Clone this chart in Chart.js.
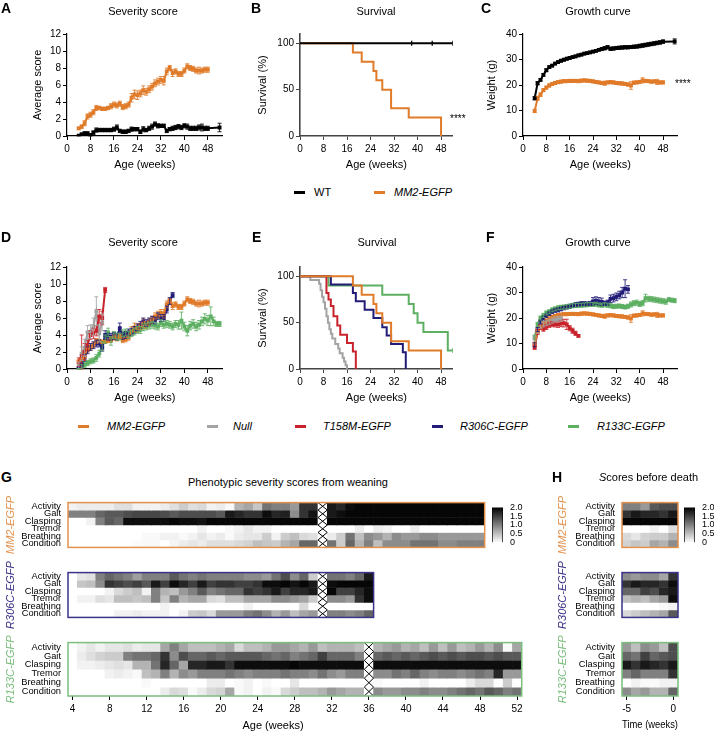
<!DOCTYPE html>
<html lang="en">
<head>
<meta charset="UTF-8">
<title>MM2-EGFP phenotypes</title>
<script src="https://cdn.jsdelivr.net/npm/chart.js"></script>
<style>
  body { margin: 0; background: #fff; font-family: "Liberation Sans", Arial, sans-serif; }
  #fig { position: relative; width: 714px; height: 732px; overflow: hidden; }
  canvas { position: absolute; }
  .t { position: absolute; white-space: nowrap; color: #000; font-size: 11px; line-height: 13px; }
  .c { transform: translateX(-50%); }
  .letter { font-weight: bold; font-size: 14px; line-height: 16px; }
  .it { font-style: italic; }
  .dash { position: absolute; width: 11px; height: 2.5px; }
</style>
</head>
<body>
<div id="fig">
  <canvas id="cA" width="232" height="175" style="left:0;top:0"></canvas>
  <canvas id="cB" width="232" height="175" style="left:232px;top:0"></canvas>
  <canvas id="cC" width="250" height="175" style="left:464px;top:0"></canvas>
  <canvas id="cD" width="232" height="175" style="left:0;top:233px"></canvas>
  <canvas id="cE" width="232" height="175" style="left:232px;top:233px"></canvas>
  <canvas id="cF" width="250" height="175" style="left:464px;top:233px"></canvas>

  <canvas id="gMM2" width="495" height="70" style="left:0;top:490px"></canvas>
  <canvas id="gR306C" width="495" height="70" style="left:0;top:560px"></canvas>
  <canvas id="gR133C" width="540" height="102" style="left:0;top:630px"></canvas>
  <canvas id="gBar" width="45" height="60" style="left:485px;top:495px"></canvas>

  <canvas id="hMM2" width="140" height="70" style="left:548px;top:490px"></canvas>
  <canvas id="hR306C" width="140" height="70" style="left:548px;top:560px"></canvas>
  <canvas id="hR133C" width="140" height="102" style="left:548px;top:630px"></canvas>
  <canvas id="hBar" width="37" height="60" style="left:677px;top:495px"></canvas>

  <div class="t letter" style="left:1px;top:0">A</div>
  <div class="t letter" style="left:251px;top:0">B</div>
  <div class="t letter" style="left:481px;top:0">C</div>
  <div class="t letter" style="left:1px;top:229px">D</div>
  <div class="t letter" style="left:252px;top:229px">E</div>
  <div class="t letter" style="left:486px;top:229px">F</div>
  <div class="t letter" style="left:1px;top:469px">G</div>
  <div class="t letter" style="left:552px;top:469px">H</div>

  <div class="t c" style="left:143px;top:5px">Severity score</div>
  <div class="t c" style="left:376px;top:5px">Survival</div>
  <div class="t c" style="left:598px;top:5px">Growth curve</div>
  <div class="t c" style="left:143px;top:236px">Severity score</div>
  <div class="t c" style="left:377px;top:236px">Survival</div>
  <div class="t c" style="left:598px;top:236px">Growth curve</div>
  <div class="t" style="left:450px;top:112px;font-size:10px">****</div>
  <div class="t" style="left:675px;top:77px;font-size:10px">****</div>

  <div class="dash" style="left:294px;top:191px;background:#000"></div>
  <div class="t" style="left:314px;top:186px">WT</div>
  <div class="dash" style="left:374px;top:191px;background:#E07B2A"></div>
  <div class="t it" style="left:394px;top:186px">MM2-EGFP</div>

  <div class="dash" style="left:78px;top:425px;background:#E07B2A"></div>
  <div class="t it" style="left:107px;top:420px">MM2-EGFP</div>
  <div class="dash" style="left:207px;top:425px;background:#A3A3A3"></div>
  <div class="t it" style="left:233px;top:420px">Null</div>
  <div class="dash" style="left:295px;top:425px;background:#C8232C"></div>
  <div class="t it" style="left:323px;top:420px">T158M-EGFP</div>
  <div class="dash" style="left:432px;top:425px;background:#221C78"></div>
  <div class="t it" style="left:460px;top:420px">R306C-EGFP</div>
  <div class="dash" style="left:568px;top:425px;background:#5DAF62"></div>
  <div class="t it" style="left:597px;top:420px">R133C-EGFP</div>

  <div class="t" style="left:188px;top:476px">Phenotypic severity scores from weaning</div>
  <div class="t" style="left:599px;top:471px"><i>S</i>cores before death</div>
  <div class="t c" style="left:273px;top:719px">Age (weeks)</div>
</div>

<script>
// colours
const cOrange = '#E07B2A';
const cGrey = '#A3A3A3';
const cRed = '#C8232C';
const cNavy = '#221C78';
const cGreen = '#5DAF62';

function range(a, b) {
    const out = [];
    for (let i = a; i <= b; i++) out.push(i);
    return out;
}

// ---------- x categories ----------
const weeks4to48 = range(4, 48);
const weeks4to36 = range(4, 36);
const weeks4to52 = range(4, 52);
const weeks4to12 = range(4, 12);
const weeks4to13 = range(4, 13);
const weeks4to19 = range(4, 19);
const wtWeeks = weeks4to48.concat([52]);
const ageTicks = [0, 8, 16, 24, 32, 40, 48];
const heatAgeTicks = [4, 8, 12, 16, 20, 24, 28, 32, 36, 40, 44, 48, 52];
const timeWeeks = [-5, -4, -3, -2, -1, 0];
const timeTicks = [-5, 0];
const rowNames = ['Activity', 'Gait', 'Clasping', 'Tremor', 'Breathing', 'Condition'];
const scoreTicks = [0, 0.5, 1, 1.5, 2];

// ---------- A / D severity score ----------
const sevWT = [0.05, 0.2, 0.3, 0.3, 0.1, 0.4, 0.7, 0.7, 0.7, 0.7, 0.7, 0.7, 0.8, 1.0, 0.6, 0.5, 0.5, 0.6, 0.8, 0.8,
    0.8, 0.5, 0.8, 0.7, 0.9, 1.1, 1.4, 1.2, 1.2, 1.2, 0.6, 0.8, 0.9, 1.0, 1.1, 1.0, 1.2, 1.1, 0.9, 0.9,
    0.9, 1.0, 1.0, 0.9, 0.9, 1.0];
const sevWTErr = [0.05, 0.15, 0.2, 0.2, 0.15, 0.2, 0.25, 0.2, 0.2, 0.2, 0.2, 0.2, 0.25, 0.3, 0.2, 0.2, 0.2, 0.2, 0.25, 0.2,
    0.2, 0.2, 0.3, 0.2, 0.25, 0.3, 0.25, 0.25, 0.2, 0.2, 0.2, 0.2, 0.25, 0.25, 0.25, 0.25, 0.25, 0.3, 0.25, 0.25,
    0.25, 0.3, 0.4, 0.25, 0.25, 0.5];
const sevMM2 = [0.9, 1.1, 1.5, 2.3, 2.5, 2.8, 3.3, 3.3, 3.2, 3.2, 3.3, 3.5, 3.7, 3.6, 3.8, 3.4, 3.5, 3.7, 4.5, 4.9,
    4.8, 5.0, 5.4, 5.2, 5.5, 5.8, 6.2, 6.4, 6.6, 6.5, 7.6, 8.0, 7.4, 7.6, 7.3, 7.3, 7.7, 8.2, 8.0, 7.9,
    7.7, 7.7, 7.7, 7.8, 7.8];
const sevMM2Err = [0.15, 0.2, 0.3, 0.3, 0.3, 0.3, 0.3, 0.2, 0.2, 0.2, 0.2, 0.3, 0.3, 0.3, 0.3, 0.3, 0.3, 0.3, 0.5, 0.5,
    0.5, 0.4, 0.5, 0.4, 0.4, 0.4, 0.4, 0.4, 0.4, 0.5, 0.4, 0.3, 0.4, 0.3, 0.3, 0.3, 0.3, 0.3, 0.3, 0.3,
    0.3, 0.4, 0.3, 0.3, 0.3];
const sevNull = [0.4, 1.8, 2.5, 4.3, 4.4, 5.0, 6.8, 4.2, 5.5];
const sevNullErr = [0.4, 0.8, 1.0, 0.8, 0.8, 1.0, 1.7, 1.0, 1.0];
const sevT158M = [0.8, 1.5, 2.0, 2.8, 4.0, 4.2, 4.5, 6.2, 6.0, 9.3];
const sevT158MErr = [0.5, 2.5, 1.0, 0.6, 0.5, 0.6, 0.6, 0.8, 0.8, 0.3];
const sevR306C = [0.1, 0.5, 1.3, 2.2, 2.6, 2.8, 3.0, 3.0, 2.5, 4.0, 3.8, 3.8, 3.9, 3.8, 4.8, 3.9, 4.0, 4.3, 4.4, 4.6,
    4.9, 5.2, 5.6, 5.4, 5.6, 5.8, 5.7, 6.2, 6.0, 6.0, 7.0, 8.0, 8.7];
const sevR306CErr = [0.1, 0.3, 0.4, 0.4, 0.4, 0.4, 0.4, 0.4, 0.4, 0.5, 0.4, 0.4, 0.4, 0.4, 0.6, 0.4, 0.4, 0.4, 0.4, 0.4,
    0.4, 0.4, 0.4, 0.4, 0.4, 0.4, 0.4, 0.4, 0.4, 0.4, 0.4, 0.4, 0.3];
const sevR133C = [0, 0.3, 0.5, 0.7, 0.9, 1.0, 1.3, 1.8, 2.7, 3.5, 4.3, 3.3, 4.0, 3.8, 3.8, 4.2, 4.3, 4.0, 4.2, 4.4,
    4.6, 4.6, 4.9, 5.0, 5.1, 5.2, 5.1, 5.0, 5.4, 5.2, 5.3, 5.2, 5.0, 5.3, 5.2, 5.7, 5.0, 4.5, 5.1, 5.3,
    5.0, 5.2, 5.6, 5.9, 5.7, 6.2, 5.6, 5.3, 5.3];
const sevR133CErr = [0.05, 0.2, 0.3, 0.3, 0.3, 0.3, 0.4, 0.4, 0.5, 0.5, 0.5, 0.5, 0.4, 0.4, 0.4, 0.4, 0.4, 0.4, 0.4, 0.4,
    0.4, 0.4, 0.4, 0.4, 0.4, 0.4, 0.4, 0.4, 0.4, 0.4, 0.4, 0.4, 0.4, 0.4, 0.5, 1.0, 0.5, 0.6, 0.5, 0.5,
    0.5, 0.5, 0.5, 0.6, 0.6, 1.1, 0.5, 0.3, 0.3];

// ---------- B / E survival (%) ----------
const survWTT = [0, 52];
const survWTP = [100, 100];
const wtCensorT = [38, 45, 52];
const survMM2T = [0, 18, 21, 25, 26, 28, 31, 37, 48];
const survMM2P = [100, 90, 80, 70, 60, 50, 30, 20, 0];
const survNullT = [0, 3.5, 6.5, 7, 7.5, 8, 8.5, 9, 9.5, 10, 10.5, 11, 12, 13, 13.5, 14.5, 15, 15.5, 16];
const survNullP = [100, 96, 92, 85, 78, 72, 65, 57, 50, 43, 38, 33, 27, 22, 17, 12, 8, 4, 0];
const survT158MT = [0, 9, 9.7, 10.5, 11.4, 12.7, 13.7, 16, 18, 19];
const survT158MP = [100, 82, 75, 68, 57, 47, 37, 28, 19, 0];
const survR306CT = [0, 10.5, 18, 19, 22, 25, 28, 29.5, 31, 35, 36];
const survR306CP = [100, 91, 82, 73, 64, 55, 45, 36, 27, 18, 0];
const survR133CT = [0, 9.7, 28, 37, 38.7, 40, 42, 50.3, 52];
const survR133CP = [100, 90, 80, 70, 60, 50, 40, 20, 20];
const r133cCensorT = [52];
const r133cCensorP = [20];

// ---------- C / F weight (g) ----------
const wtWT = [14.8, 20.7, 22.0, 24.0, 25.8, 27.0, 27.6, 28.4, 29.0, 29.5, 29.9, 30.3, 30.6, 30.9, 31.2, 31.6, 31.9, 32.3, 32.5, 32.8,
    33.1, 33.4, 33.8, 34.1, 34.4, 34.8, 34.2, 34.3, 34.5, 34.6, 34.7, 34.8, 34.8, 34.9, 35.0, 35.1, 35.3, 35.5, 35.7, 35.9,
    36.1, 36.3, 36.5, 36.7, 37.0, 37.1];
const wtWTErr = [0.6, 0.6, 0.5, 0.5, 0.5, 0.5, 0.5, 0.5, 0.5, 0.5, 0.5, 0.5, 0.5, 0.5, 0.5, 0.5, 0.5, 0.5, 0.5, 0.5,
    0.5, 0.5, 0.5, 0.6, 0.6, 0.6, 0.6, 0.6, 0.6, 0.6, 0.6, 0.6, 0.6, 0.6, 0.6, 0.6, 0.7, 0.7, 0.7, 0.7,
    0.7, 0.7, 0.7, 0.7, 0.7, 1.0];
const wtMM2 = [9.8, 14.8, 16.2, 18.0, 19.0, 19.8, 20.4, 20.8, 21.1, 21.3, 21.5, 21.5, 21.6, 21.6, 21.6, 21.5, 21.7, 21.8, 21.7, 21.6,
    21.4, 21.2, 21.0, 20.8, 20.7, 21.0, 21.1, 21.0, 20.8, 20.7, 20.6, 20.4, 20.2, 19.8, 20.9, 21.0, 21.2, 21.8, 21.6, 21.5,
    21.3, 21.4, 21.2, 21.0, 21.0];
const wtMM2Err = [0.6, 0.8, 0.7, 0.6, 0.6, 0.6, 0.6, 0.6, 0.6, 0.6, 0.6, 0.6, 0.6, 0.6, 0.6, 0.6, 0.6, 0.6, 0.6, 0.6,
    0.6, 0.6, 0.6, 0.6, 0.8, 0.6, 0.6, 0.6, 0.6, 0.6, 0.6, 0.6, 0.6, 1.5, 0.6, 0.6, 0.6, 1.0, 0.6, 0.6,
    0.6, 0.6, 1.0, 0.6, 0.6];
const wtNull = [12.0, 15.0, 17.0, 17.5, 18.0, 18.5, 19.0, 19.5, 19.5, 19.8];
const wtNullErr = [1.0, 1.0, 1.0, 1.0, 1.0, 1.0, 1.0, 1.0, 1.0, 1.0];
const wtT158M = [8.5, 14.5, 16.5, 15.8, 16.5, 17.3, 17.6, 17.5, 17.5, 17.8, 18.0, 17.5, 16.0, 15.0, 14.0, 13.0];
const wtT158MErr = [0.8, 1.0, 1.0, 1.0, 1.0, 1.0, 1.0, 1.0, 1.2, 1.2, 1.5, 2.0, 1.0, 1.0, 0.8, 0.5];
const wtR306C = [9.5, 15.5, 18.5, 20.0, 21.0, 21.8, 22.5, 23.0, 23.2, 23.6, 24.0, 24.3, 24.6, 24.9, 25.2, 25.4, 25.6, 25.6, 25.5, 25.7,
    26.5, 26.8, 26.5, 26.3, 25.8, 26.0, 27.5, 27.8, 28.3, 29.0, 30.0, 31.5, 31.2];
const wtR306CErr = [0.8, 0.8, 0.8, 0.8, 0.8, 0.8, 0.8, 0.8, 0.8, 0.8, 0.8, 0.8, 0.8, 0.8, 0.8, 0.8, 0.8, 0.8, 0.8, 0.8,
    1.5, 1.5, 1.5, 1.5, 0.8, 1.0, 1.5, 1.5, 1.5, 1.5, 2.0, 3.5, 1.5];
const wtR133C = [12.5, 17.5, 20.0, 21.0, 22.0, 22.5, 23.2, 23.6, 24.0, 24.2, 24.3, 24.4, 24.6, 24.8, 24.9, 25.0, 25.0, 25.1, 25.2, 25.3,
    25.3, 25.4, 25.1, 25.0, 25.2, 25.0, 24.8, 24.5, 24.6, 24.7, 24.5, 24.3, 24.6, 25.3, 25.8, 26.0, 25.5, 25.8, 27.8, 27.5,
    27.4, 27.2, 27.0, 26.8, 26.6, 26.4, 27.2, 27.0, 26.8];
const wtR133CErr = [0.8, 0.8, 0.8, 0.8, 0.8, 0.8, 0.8, 0.8, 0.8, 0.8, 0.8, 0.8, 0.8, 0.8, 0.8, 0.8, 0.8, 0.8, 0.8, 0.8,
    0.8, 0.8, 0.8, 0.8, 0.8, 0.8, 0.8, 0.8, 0.8, 0.8, 0.8, 0.8, 0.8, 1.0, 1.0, 1.0, 1.0, 1.0, 1.5, 1.0,
    1.0, 1.0, 1.0, 1.0, 1.0, 1.0, 0.8, 0.8, 0.8];

// ---------- G heat maps: rows Activity..Condition, null = missing week ----------
const gMM2 = [
    [0.1, 0.15, 0.15, 0.15, 0.15, 0.25, 0.25, 0.1, 0.1, 0.1, 0.15, 0.25, 0.4, 0.25, 0.3, 0.1, 0.15, 0.05, 0.6, 0.7, 0.45, 1.1, 1.0, 1.0, 0.8, 1.6, 1.6, null, 1.8, 1.7, 1.9, 1.95, 1.95, 1.95, 1.95, 1.95, 1.95, 1.95, 1.95, 1.95, 1.95, 1.95, 1.95, 1.95, 1.95],
    [1.0, 1.0, 1.0, 1.2, 1.3, 1.3, 1.4, 1.45, 1.45, 1.45, 1.4, 1.3, 1.4, 1.4, 1.4, 1.4, 1.3, 1.8, 1.7, 1.6, 1.6, 1.9, 1.7, 1.75, 0.9, 1.6, 1.85, null, 1.8, 1.9, 1.95, 1.95, 1.95, 1.95, 1.95, 1.95, 1.95, 1.95, 1.95, 1.95, 1.95, 1.95, 1.95, 1.95, 1.95],
    [0, 0, 0.1, 1.0, 1.3, 1.2, 1.9, 1.9, 1.9, 1.9, 1.9, 1.95, 1.9, 1.9, 1.85, 1.95, 1.95, 1.95, 1.95, 1.95, 1.95, 1.95, 1.95, 1.95, 1.95, 1.95, 1.95, null, 1.95, 1.95, 1.95, 1.95, 1.95, 1.95, 1.95, 1.95, 1.95, 1.95, 1.95, 1.95, 1.95, 1.95, 1.95, 1.95, 1.95],
    [0, 0, 0, 0, 0, 0, 0, 0, 0, 0, 0, 0, 0, 0, 0.1, 0, 0, 0.05, 0.1, 0.2, 0.1, 0.1, 0, 0, 0, 0, 0, null, 0, 0, 0, 0.15, 0, 0.15, 0.1, 0, 0, 0.15, 0, 0, 0, 0, 0, 0, 0],
    [0, 0, 0, 0, 0, 0, 0, 0, 0.05, 0.05, 0.1, 0.1, 0.05, 0.1, 0.2, 0.1, 0.15, 0.05, 0.15, 0.2, 0.2, 0.4, 0.1, 0.4, 0.5, 0.3, 0.25, null, 0.15, 0.4, 1.1, 0.5, 0.9, 0.8, 0.6, 0.9, 0.8, 0.8, 0.9, 0.9, 0.8, 0.8, 0.8, 0.8, 0.8],
    [0, 0, 0, 0, 0, 0, 0, 0.03, 0.05, 0.05, 0, 0.08, 0.15, 0.2, 0.15, 0.25, 0.25, 0.25, 0.3, 0.35, 0.5, 0.45, 0.4, 0.6, 0.7, 1.2, 1.2, null, 1.1, 0.4, 1.2, 0.6, 1.0, 0.5, 0.9, 0.9, 0.9, 1.1, 1.1, 1.1, 0.9, 0.9, 1.0, 1.0, 1.0]
];
const gR306C = [
    [0, 0.2, 0.25, 1.0, 1.2, 1.1, 1.0, 0.75, 1.0, 1.0, 1.0, 1.3, 1.1, 1.0, 1.1, 1.0, 1.0, 1.0, 1.0, 0.9, 0.9, 0.8, 1.1, 1.4, 0.9, 1.2, 0.4, null, 1.1, 1.1, 1.0, 1.2, 1.8],
    [0, 0.45, 0.5, 0.9, 1.6, 1.5, 1.4, 1.5, 1.3, 1.8, 1.5, 1.9, 1.7, 1.5, 1.8, 1.5, 1.6, 1.6, 1.5, 1.5, 1.6, 1.9, 1.9, 1.95, 1.85, 1.95, 1.8, null, 1.9, 1.95, 1.95, 1.95, 1.95],
    [0, 0, 0, 0, 0.1, 0.3, 0.4, 0.5, 0.1, 1.0, 0.6, 0.5, 0.8, 1.0, 1.3, 1.0, 1.1, 1.2, 1.2, 1.6, 1.5, 1.6, 1.8, 1.5, 1.7, 1.7, 1.8, null, 1.95, 1.5, 1.5, 1.7, 1.9],
    [0, 0.1, 0.1, 0.25, 0.2, 0.5, 0.5, 0.45, 0.5, 1.0, 0.45, 1.0, 0.6, 0.7, 0.7, 0.3, 0.25, 0.5, 0.5, 0.7, 0.7, 0.7, 0.9, 0.9, 0.8, 0.7, 0.4, null, 0.9, 0.9, 0.8, 1.6, 1.9],
    [0, 0, 0, 0, 0, 0, 0, 0, 0, 0, 0.1, 0, 0, 0, 0, 0, 0, 0, 0, 0.1, 0, 0, 0, 0, 0, 0.3, 0, null, 0, 0, 0, 0, 0],
    [0, 0, 0, 0, 0, 0.1, 0.1, 0.15, 0.1, 0.1, 0.1, 0, 0.1, 0.4, 0.45, 0.3, 0.8, 0.8, 0.8, 1.0, 1.1, 0.9, 0.6, 0.8, 0.5, 0.7, 0.8, null, 1.0, 1.0, 0.9, 1.0, 1.2]
];
const gR133C = [
    [0, 0.1, 0.2, 0.1, 0.2, 0.2, 0.25, 0.15, 0.2, 0.2, 0.7, 1.0, 0.7, 0.5, 0.5, 0.5, 0.6, 0.7, 0.3, 0.5, 0.5, 0.6, 0.8, 0.8, 0.7, 0.6, 0.8, 0.5, 0.6, 0.6, 0.6, 0.5, null, 0.6, 0.7, 0.8, 0.6, 0.7, 0.5, 0.8, 0.5, 0.8, 0.5, 0.6, 0.8, 0.6, 0.9, 0.05, 0.7],
    [0, 0.15, 0.25, 0.35, 0.4, 0.4, 1.0, 1.1, 1.1, 1.2, 1.6, 0.9, 1.4, 1.2, 1.2, 1.3, 1.2, 1.3, 1.3, 1.3, 1.3, 1.2, 1.1, 1.2, 1.0, 1.1, 1.2, 1.5, 1.2, 1.2, 1.2, 1.0, null, 1.2, 1.3, 1.2, 1.3, 1.2, 1.3, 1.4, 1.3, 1.4, 1.3, 1.4, 1.4, 1.3, 1.4, 1.3, 1.3],
    [0, 0.1, 0.1, 0.15, 0.2, 0.25, 0.2, 0.6, 0.6, 1.1, 1.7, 1.2, 0.7, 1.7, 1.7, 1.8, 1.8, 1.6, 1.9, 1.9, 1.9, 1.9, 1.9, 1.9, 1.95, 1.9, 1.9, 1.9, 1.9, 1.9, 1.9, 1.9, null, 1.9, 1.9, 1.9, 1.9, 1.9, 1.9, 1.9, 1.9, 1.9, 1.9, 1.9, 1.9, 1.9, 1.9, 1.9, 1.9],
    [0, 0, 0, 0, 0.1, 0.15, 0.1, 0.05, 0.5, 0.6, 1.0, 0.6, 0.9, 0.8, 1.0, 1.0, 1.0, 1.1, 1.0, 0.9, 1.0, 1.0, 1.0, 1.1, 1.0, 1.0, 0.9, 1.1, 0.9, 0.8, 1.0, 1.0, null, 0.9, 0.9, 1.1, 1.0, 1.2, 1.0, 0.9, 1.0, 1.0, 0.9, 1.0, 1.1, 1.0, 1.7, 0.8, 0.8],
    [0, 0, 0, 0, 0, 0, 0, 0, 0.05, 0, 0, 0, 0, 0, 0, 0.15, 0.15, 0, 0.05, 0.1, 0, 0.05, 0, 0, 0.2, 0, 0, 0, 0, 0, 0, 0, null, 0.05, 0, 0, 0, 0, 0.1, 0, 0, 0, 0, 0.15, 0.3, 0.3, 0, 0.4, 0],
    [0, 0, 0, 0, 0, 0, 0, 0, 0, 0, 0.15, 0.3, 0.25, 0.05, 0.15, 0.3, 0.35, 0.7, 0.05, 0.1, 0, 0.1, 0.05, 0.3, 0.4, 0.5, 0.5, 0.6, 0.8, 0.7, 0.6, 0.6, null, 0.9, 0.8, 0.8, 0.9, 0.9, 1.0, 0.9, 0.9, 1.0, 1.1, 1.2, 1.1, 1.3, 1.2, 1.0, 1.1]
];

// ---------- H heat maps (last 6 weeks before death) ----------
const hMM2 = [
    [1.0, 1.0, 0.8, 1.3, 1.4, 1.4],
    [1.6, 1.8, 1.7, 1.7, 1.6, 1.8],
    [1.95, 1.95, 1.95, 1.95, 1.95, 1.95],
    [0, 0, 0, 0.1, 0, 0.25],
    [0.3, 0.2, 0.35, 0.4, 0.4, 0.6],
    [0.35, 0.45, 0.4, 0.7, 0.6, 0.9]
];
const hR306C = [
    [0.9, 0.8, 0.9, 0.9, 0.7, 1.6],
    [1.6, 1.8, 1.7, 1.7, 1.6, 1.9],
    [1.2, 1.2, 1.5, 1.4, 1.7, 1.8],
    [0.5, 0.6, 0.5, 0.7, 0.8, 1.9],
    [0, 0, 0, 0, 0.05, 0.1],
    [0.3, 0.4, 0.5, 0.6, 0.7, 1.3]
];
const hR133C = [
    [0.8, 0.5, 0.9, 0.8, 0.5, 1.4],
    [1.2, 1.1, 1.5, 1.2, 1.3, 1.4],
    [1.8, 1.6, 1.8, 1.7, 1.6, 1.8],
    [1.0, 1.2, 1.0, 1.0, 1.0, 1.6],
    [0, 0.1, 0.05, 0.05, 0.1, 0.1],
    [0.9, 0.7, 0.8, 0.6, 0.6, 1.2]
];

Chart.defaults.font.family = '"Liberation Sans", Arial, sans-serif';
Chart.defaults.color = '#000';

function pts(xs, ys) {
    return xs.map((x, i) => ({ x: x, y: ys[i] }));
}

function gray(v) {
    const g = Math.round(255 * (1 - v / 2));
    return 'rgb(' + g + ',' + g + ',' + g + ')';
}

// error bars (mean +/- SEM) drawn through the chart scales
const errorBars = {
    id: 'errorBars',
    afterDatasetsDraw(chart) {
        const { ctx, scales: { x, y } } = chart;
        chart.data.datasets.forEach((ds) => {
            if (!ds.errors) return;
            ctx.save();
            ctx.strokeStyle = ds.borderColor;
            ctx.globalAlpha = 0.85;
            ctx.lineWidth = 1;
            ds.data.forEach((p, j) => {
                const e = ds.errors[j];
                if (!e) return;
                const px = x.getPixelForValue(p.x);
                const top = y.getPixelForValue(p.y + e);
                const bot = y.getPixelForValue(Math.max(0, p.y - e));
                ctx.beginPath();
                ctx.moveTo(px, top); ctx.lineTo(px, bot);
                ctx.moveTo(px - 2, top); ctx.lineTo(px + 2, top);
                ctx.moveTo(px - 2, bot); ctx.lineTo(px + 2, bot);
                ctx.stroke();
            });
            ctx.restore();
        });
    }
};

function series(xs, ys, errs, color) {
    return {
        data: pts(xs, ys), errors: errs, borderColor: color, backgroundColor: color,
        borderWidth: 2, pointRadius: 1.3, pointStyle: 'rect'
    };
}

function steps(xs, ys, color) {
    return { data: pts(xs, ys), borderColor: color, borderWidth: 2, pointRadius: 0, stepped: true };
}

function censor(xs, ys, color) {
    return {
        data: pts(xs, ys), showLine: false, borderColor: color, borderWidth: 1.3,
        pointStyle: 'line', rotation: 90, pointRadius: 2.5
    };
}

function lineChart(id, datasets, o) {
    const axisColor = o.axisColor || '#000';
    return new Chart(document.getElementById(id), {
        type: 'line',
        data: { datasets: datasets },
        options: {
            responsive: false,
            animation: false,
            layout: { padding: { top: 34, right: o.padRight, left: 0, bottom: 0 } },
            plugins: { legend: { display: false }, tooltip: { enabled: false } },
            scales: {
                x: {
                    type: 'linear', min: 0, max: o.xMax,
                    afterBuildTicks: (s) => { s.ticks = ageTicks.map(v => ({ value: v })); },
                    afterFit: (s) => { s.height = 39; },
                    grid: { display: true, drawOnChartArea: false, tickLength: 4, color: axisColor },
                    border: { display: true, color: axisColor, width: o.axisWidth || 1.2 },
                    ticks: { font: { size: 10 }, padding: 3, maxRotation: 0, autoSkip: false },
                    title: { display: true, text: 'Age (weeks)', font: { size: 11 }, padding: { top: 0, bottom: 3.4 } }
                },
                y: {
                    min: 0, max: o.yMax,
                    afterBuildTicks: (s) => { s.ticks = o.yTicks.map(v => ({ value: v })); },
                    afterFit: (s) => { s.width = o.yW; },
                    grid: { display: true, drawOnChartArea: false, tickLength: 4, color: axisColor },
                    border: { display: true, color: axisColor, width: o.axisWidth || 1.2 },
                    ticks: { font: { size: 10 }, padding: 2, autoSkip: false },
                    title: { display: true, text: o.yTitle, font: { size: 11 }, padding: { top: o.yTitlePad, bottom: 0 } }
                }
            }
        },
        plugins: [errorBars]
    });
}

const sevTicks = [0, 2, 4, 6, 8, 10, 12];
const survTicks = [0, 50, 100];
const weightTicks = [0, 10, 20, 30, 40];

// A
lineChart('cA', [
    series(wtWeeks, sevWT, sevWTErr, '#000'),
    series(weeks4to48, sevMM2, sevMM2Err, cOrange)
], { xMax: 53, padRight: 9.5, yMax: 12, yTicks: sevTicks, yW: 67, yTitle: 'Average score', yTitlePad: 31.4 });

// B
lineChart('cB', [
    censor(wtCensorT, [100, 100, 100], '#000'),
    steps(survWTT, survWTP, '#000'),
    steps(survMM2T, survMM2P, cOrange)
], { xMax: 52, padRight: 11.2, yMax: 110, yTicks: survTicks, yW: 68, yTitle: 'Survival (%)', yTitlePad: 24.4, axisColor: '#444', axisWidth: 1.6 });

// C
lineChart('cC', [
    series(wtWeeks, wtWT, wtWTErr, '#000'),
    series(weeks4to48, wtMM2, wtMM2Err, cOrange)
], { xMax: 53, padRight: 36.4, yMax: 40, yTicks: weightTicks, yW: 59, yTitle: 'Weight (g)', yTitlePad: 21.4 });

// D
lineChart('cD', [
    series(weeks4to48, sevMM2, sevMM2Err, cOrange),
    series(weeks4to36, sevR306C, sevR306CErr, cNavy),
    series(weeks4to13, sevT158M, sevT158MErr, cRed),
    series(weeks4to12, sevNull, sevNullErr, cGrey),
    series(weeks4to52, sevR133C, sevR133CErr, cGreen)
], { xMax: 53, padRight: 9.5, yMax: 12, yTicks: sevTicks, yW: 67, yTitle: 'Average score', yTitlePad: 31.4 });

// E
lineChart('cE', [
    censor(r133cCensorT, r133cCensorP, cGreen),
    steps(survMM2T, survMM2P, cOrange),
    steps(survR306CT, survR306CP, cNavy),
    steps(survT158MT, survT158MP, cRed),
    steps(survNullT, survNullP, cGrey),
    steps(survR133CT, survR133CP, cGreen)
], { xMax: 52, padRight: 11.2, yMax: 110, yTicks: survTicks, yW: 68, yTitle: 'Survival (%)', yTitlePad: 24.4, axisColor: '#444', axisWidth: 1.6 });

// F
lineChart('cF', [
    series(weeks4to48, wtMM2, wtMM2Err, cOrange),
    series(weeks4to19, wtT158M, wtT158MErr, cRed),
    series(weeks4to13, wtNull, wtNullErr, cGrey),
    series(weeks4to36, wtR306C, wtR306CErr, cNavy),
    series(weeks4to52, wtR133C, wtR133CErr, cGreen)
], { xMax: 53, padRight: 36.4, yMax: 40, yTicks: weightTicks, yW: 59, yTitle: 'Weight (g)', yTitlePad: 21.4 });

// ---------- heat maps ----------
const heatFrame = {
    id: 'heatFrame',
    afterDatasetsDraw(chart, args, opts) {
        const { ctx, chartArea: a, scales: { x, y } } = chart;
        ctx.save();
        if (opts.cross != null) {
            const l = x.getPixelForValue(opts.cross - 0.5);
            const r = x.getPixelForValue(opts.cross + 0.5);
            ctx.strokeStyle = '#000';
            ctx.lineWidth = 1;
            for (let i = 0; i < rowNames.length; i++) {
                const t = y.getPixelForValue(i);
                const b = y.getPixelForValue(i + 1);
                ctx.beginPath();
                ctx.moveTo(l, t); ctx.lineTo(r, b);
                ctx.moveTo(r, t); ctx.lineTo(l, b);
                ctx.stroke();
            }
        }
        ctx.strokeStyle = opts.color;
        ctx.lineWidth = 1.5;
        ctx.strokeRect(a.left, a.top, a.right - a.left, a.bottom - a.top);
        ctx.restore();
    }
};

function heatmap(id, cols, rows, o) {
    const showX = !!o.xTicks;
    new Chart(document.getElementById(id), {
        type: 'bar',
        data: {
            datasets: rows.map((vals, r) => ({
                label: rowNames[r],
                data: cols.map(c => ({ x: c, y: 1 })),
                backgroundColor: vals.map(v => (v == null ? '#fff' : gray(v))),
                borderWidth: 0,
                barThickness: 'flex',
                categoryPercentage: 1,
                barPercentage: 1
            }))
        },
        options: {
            responsive: false,
            animation: false,
            layout: { padding: { top: 10, right: o.padRight, left: 0, bottom: o.padBottom } },
            plugins: {
                legend: { display: false }, tooltip: { enabled: false },
                heatFrame: { color: o.color, cross: o.cross }
            },
            scales: {
                x: {
                    type: 'linear', stacked: true, display: showX, offset: false,
                    min: cols[0] - 0.5, max: cols[cols.length - 1] + 0.5,
                    afterBuildTicks: (s) => { s.ticks = (showX ? o.xTicks : cols).map(v => ({ value: v })); },
                    afterFit: (s) => { s.height = showX ? 36 : 0; },
                    grid: { display: true, offset: false, drawOnChartArea: false, tickLength: 4, color: '#000' },
                    border: { display: false },
                    ticks: { font: { size: 10 }, padding: 3, maxRotation: 0, autoSkip: false },
                    title: { display: !!o.xTitle, text: o.xTitle, font: { size: 11 }, padding: { top: 0, bottom: 0 } }
                },
                y: {
                    stacked: true, reverse: true, min: 0, max: rowNames.length,
                    afterBuildTicks: (s) => { s.ticks = rowNames.map((_, i) => ({ value: i + 0.5 })); },
                    afterFit: (s) => { s.width = o.yW; },
                    grid: { display: false, drawTicks: false },
                    border: { display: false },
                    ticks: { font: { size: 9.3 }, padding: 7, autoSkip: false, callback: (v) => rowNames[Math.floor(v)] },
                    title: {
                        display: true, text: o.label, color: o.color,
                        font: { size: 11, style: 'italic' }, padding: { top: o.labelPad, bottom: 0 }
                    }
                }
            }
        },
        plugins: [heatFrame]
    });
}

const frameOrange = '#E3924E';
const frameNavy = '#3A3389';
const frameGreen = '#7BBF7E';

heatmap('gMM2', weeks4to48, gMM2, { color: frameOrange, label: 'MM2-EGFP', cross: 31, yW: 68, labelPad: 4, padRight: 10.3, padBottom: 3 });
heatmap('gR306C', weeks4to36, gR306C, { color: frameNavy, label: 'R306C-EGFP', cross: 31, yW: 68, labelPad: 4, padRight: 121.4, padBottom: 4 });
heatmap('gR133C', weeks4to52, gR133C, { color: frameGreen, label: 'R133C-EGFP', cross: 36, yW: 68, labelPad: 4, padRight: 18.3, padBottom: 0, xTicks: heatAgeTicks });

heatmap('hMM2', timeWeeks, hMM2, { color: frameOrange, label: 'MM2-EGFP', yW: 74, labelPad: 8.4, padRight: 10, padBottom: 3 });
heatmap('hR306C', timeWeeks, hR306C, { color: frameNavy, label: 'R306C-EGFP', yW: 74, labelPad: 8.4, padRight: 10, padBottom: 4 });
heatmap('hR133C', timeWeeks, hR133C, { color: frameGreen, label: 'R133C-EGFP', yW: 74, labelPad: 8.4, padRight: 10, padBottom: 0, xTicks: timeTicks, xTitle: 'Time (weeks)' });

// colour bars
function colorBar(id, yW) {
    new Chart(document.getElementById(id), {
        type: 'bar',
        data: {
            labels: ['score'],
            datasets: [{
                data: [2],
                borderColor: '#000',
                borderWidth: 1,
                categoryPercentage: 1,
                barPercentage: 1,
                backgroundColor: (c) => {
                    const a = c.chart.chartArea;
                    if (!a) return '#888';
                    const g = c.chart.ctx.createLinearGradient(0, a.bottom, 0, a.top);
                    g.addColorStop(0, '#fff');
                    g.addColorStop(1, '#000');
                    return g;
                }
            }]
        },
        options: {
            responsive: false,
            animation: false,
            layout: { padding: { top: 7, right: 0, left: 7, bottom: 8 } },
            plugins: { legend: { display: false }, tooltip: { enabled: false } },
            scales: {
                x: { display: false },
                y: {
                    position: 'right', min: 0, max: 2,
                    afterBuildTicks: (s) => { s.ticks = scoreTicks.map(v => ({ value: v })); },
                    afterFit: (s) => { s.width = yW; },
                    grid: { display: false, drawTicks: false },
                    border: { display: false },
                    ticks: { font: { size: 9 }, padding: 7, autoSkip: false, callback: (v) => (v === 0 ? '0' : v.toFixed(1)) }
                }
            }
        }
    });
}
colorBar('gBar', 27);
colorBar('hBar', 19);
</script>
</body>
</html>
